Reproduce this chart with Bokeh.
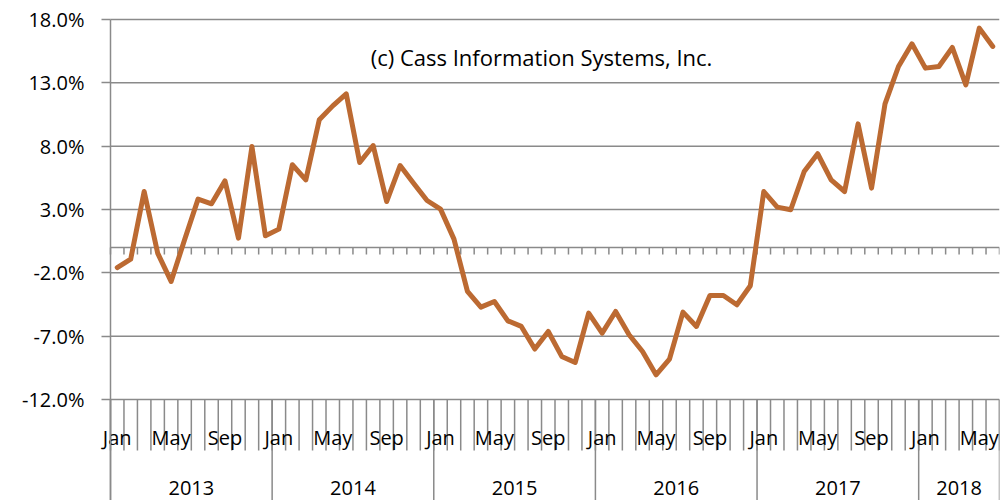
import numpy as np
from bokeh.plotting import figure
from bokeh.models import Range1d, FixedTicker, PrintfTickFormatter
from bokeh.core.properties import value
from bokeh.embed import file_html
from bokeh.resources import INLINE

# ---- data ----
years = ["2013", "2014", "2015", "2016", "2017", "2018"]
months_per_year = [12, 12, 12, 12, 12, 6]
month_names = ["Jan", "Feb", "Mar", "Apr", "May", "Jun",
               "Jul", "Aug", "Sep", "Oct", "Nov", "Dec"]
shown_months = ["Jan", "May", "Sep"]
yoy_change = [
    -1.58, -0.92, 4.42, -0.44, -2.68, 0.61, 3.82, 3.45, 5.26, 0.74, 7.97, 0.92,
    1.45, 6.53, 5.34, 10.08, 11.18, 12.13, 6.71, 8.05, 3.63, 6.47, 5.08, 3.71,
    3.03, 0.66, -3.47, -4.71, -4.26, -5.79, -6.23, -8.02, -6.63, -8.60, -9.08, -5.18,
    -6.76, -5.05, -6.89, -8.21, -10.05, -8.81, -5.10, -6.23, -3.79, -3.79, -4.52, -3.02,
    4.42, 3.19, 2.98, 6.00, 7.40, 5.34, 4.42, 9.76, 4.69, 11.34, 14.29, 16.08,
    14.16, 14.29, 15.79, 12.84, 17.32, 15.87,
]
y_ticks = [-12, -7, -2, 3, 8, 13, 18]
note = "(c) Cass Information Systems, Inc."

# ---- derived ----
n = len(yoy_change)
x = np.arange(n)
month_of = [month_names[i % 12] for i in range(n)]
lab_idx = [i for i in range(n) if month_of[i] in shown_months]
lab_txt = [month_of[i] for i in lab_idx]
bounds = np.arange(n + 1) - 0.5
year_edges = np.concatenate([[0], np.cumsum(months_per_year)]) - 0.5
year_centers = (year_edges[:-1] + year_edges[1:]) / 2
x_start, x_end = -0.5, n - 0.5

FONT = "Open Sans"
GRID = "#8a8a8a"
LINE = "#BC6A32"

ymin, ymax = min(y_ticks), max(y_ticks)
px_per_unit = 380 / (ymax - ymin)
px_per_month = 889 / n
y_top = ymax + 19 / px_per_unit
y_bottom = ymax - 481 / px_per_unit
x_left = x_start - 110 / px_per_month

p = figure(width=1000, height=500,
           x_range=Range1d(x_left, x_end), y_range=Range1d(y_bottom, y_top),
           output_backend="svg", toolbar_location=None,
           x_axis_location=None,
           min_border_left=0, min_border_right=1,
           min_border_top=0, min_border_bottom=0)
p.outline_line_color = None
p.background_fill_color = "white"
p.border_fill_color = "white"
p.xgrid.visible = False
p.ygrid.visible = False

# y axis drawn at the first category boundary
ax = p.yaxis[0]
ax.fixed_location = x_start
ax.bounds = (y_bottom, ymax)
ax.ticker = FixedTicker(ticks=y_ticks)
ax.formatter = PrintfTickFormatter(format="%.1f%%")
ax.major_tick_out = 9
ax.major_tick_in = 0
ax.minor_tick_out = 0
ax.minor_tick_in = 0
ax.axis_line_color = GRID
ax.axis_line_width = 1.5
ax.major_tick_line_color = GRID
ax.major_tick_line_width = 1.5
ax.major_label_text_font = FONT
ax.major_label_text_font_size = "20px"
ax.major_label_text_color = "black"
ax.major_label_standoff = 17

# horizontal grid lines
p.segment(x0=x_start, x1=x_end, y0=y_ticks, y1=y_ticks, line_color=GRID, line_width=1.5)

# zero line with category ticks
p.segment(x0=x_start, x1=x_end, y0=0, y1=0, line_color=GRID, line_width=1.5)
p.segment(x0=bounds, x1=bounds, y0=0, y1=-7 / px_per_unit,
          line_color=GRID, line_width=1.5)

# category axis below the bottom grid line
p.segment(x0=bounds, x1=bounds, y0=ymin, y1=ymin - 51 / px_per_unit,
          line_color=GRID, line_width=1.5)
p.segment(x0=year_edges, x1=year_edges, y0=ymin, y1=y_bottom,
          line_color=GRID, line_width=1.5)

p.text(x=lab_idx, y=[ymin - 38 / px_per_unit] * len(lab_idx), text=lab_txt,
       text_align="center", text_baseline="alphabetic",
       text_font=value(FONT), text_font_size="20px", text_color="black")
p.text(x=list(year_centers), y=[ymin - 88 / px_per_unit] * len(years), text=years,
       text_align="center", text_baseline="alphabetic",
       text_font=value(FONT), text_font_size="20px", text_color="black")

# data line
p.line(x, yoy_change, line_color=LINE, line_width=5, line_join="round", line_cap="round")

# note
p.text(x=[(n - 1) / 2 - 1], y=[ymax - 37 / px_per_unit], text=[note],
       text_align="center", text_baseline="alphabetic",
       text_font=value(FONT), text_font_size="22px", text_color="black")

open("out.html", "w").write(file_html(p, INLINE))
